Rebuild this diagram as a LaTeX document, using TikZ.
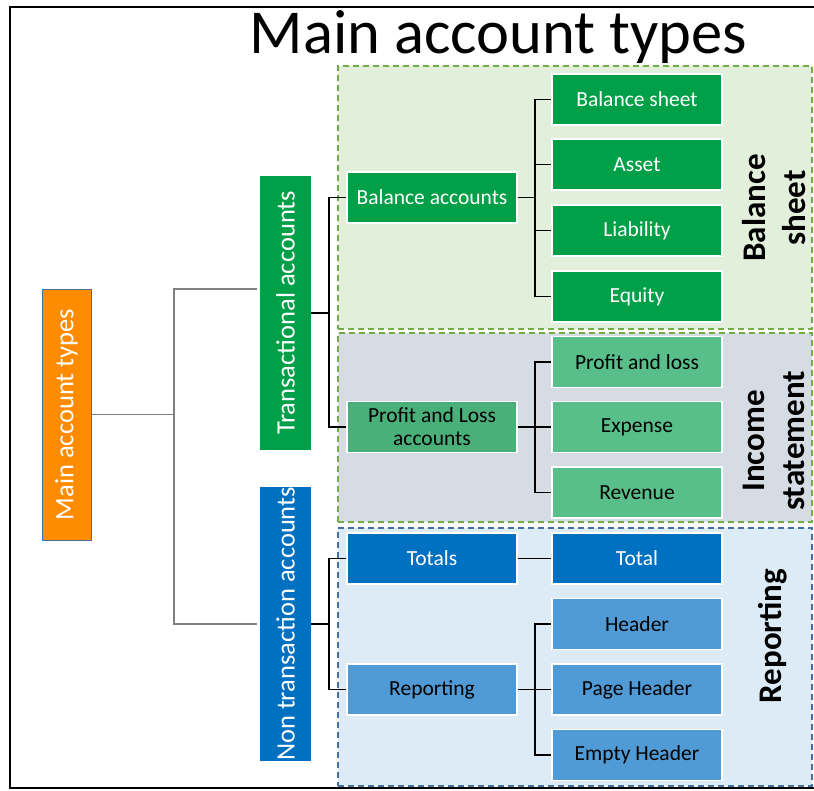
\documentclass[tikz,border=0pt]{standalone}
\usepackage{fontspec}
\setmainfont{Carlito}
\usepackage{graphicx}
\definecolor{orangeA}{RGB}{255,140,0}
\definecolor{greenA}{RGB}{0,160,72}
\definecolor{greenB}{RGB}{74,176,122}
\definecolor{greenC}{RGB}{88,190,138}
\definecolor{blueA}{RGB}{0,112,192}
\definecolor{blueB}{RGB}{80,155,213}
\definecolor{regG}{RGB}{226,239,218}
\definecolor{regI}{RGB}{214,220,228}
\definecolor{regR}{RGB}{221,235,247}
\definecolor{dashG}{RGB}{112,173,71}
\definecolor{dashB}{RGB}{65,113,156}
\definecolor{mainborder}{RGB}{65,113,156}
\tikzset{
  region/.style={draw, line width=1.2pt, dash pattern=on 6pt off 4pt, minimum width=474pt, inner sep=0pt},
  vbox/.style={inner sep=0pt, minimum width=51pt, minimum height=274pt, font=\fontsize{26.5}{30}\selectfont, text=white},
  lbox/.style={draw=white, line width=1.5pt, inner sep=0pt, minimum width=170pt, minimum height=51pt, font=\fontsize{21.5}{23}\selectfont, align=center},
  secl/.style={rotate=90, font=\fontsize{33}{40}\selectfont\bfseries, align=center, inner sep=0pt},
  conn0/.style={draw=gray, line width=1.3pt},
  conn/.style={draw=black, line width=1.5pt},
}
\begin{document}
\begin{tikzpicture}[x=1pt,y=-1pt]
\path[use as bounding box] (0,0) rectangle (814,790);
% frame
\draw[line width=2.5pt] (814,7) -- (10,7) -- (10,788) -- (814,788);
% title
\node[anchor=base, inner sep=0pt, font=\fontsize{62.5}{70}\selectfont] (title) at (498.5,53) {Main account types};
% regions
\node[region, draw=dashG, fill=regG, minimum height=263pt] (rbs) at (575,197.5) {};
\node[region, draw=dashG, fill=regI, minimum height=189pt] (ris) at (575,427.5) {};
\node[region, draw=dashB, fill=regR, minimum height=258pt] (rrp) at (575,657) {};
% level 1
\node[draw=mainborder, line width=1pt, fill=orangeA, inner sep=0pt, minimum width=49pt, minimum height=251pt, text=white, font=\fontsize{26.5}{30}\selectfont] (main) at (66.5,414.5) {\rotatebox{90}{Main account types}};
\node[vbox, fill=greenA] (ta) at (285.5,313) {\rotatebox{90}{Transactional accounts}};
\node[vbox, fill=blueA] (nta) at (285.5,624) {\rotatebox{90}{Non transaction accounts}};
% level 2
\node[lbox, fill=greenA, text=white] (ba) at (432,197.5) {Balance accounts};
\node[lbox, fill=greenB, text=black] (pla) at (432,427) {Profit and Loss\\accounts};
\node[lbox, fill=blueA, text=white] (tot) at (432,558.5) {Totals};
\node[lbox, fill=blueB, text=black] (rep) at (432,689.5) {Reporting};
% level 3
\node[lbox, fill=greenA, text=white] (bs) at (637,99.5) {Balance sheet};
\node[lbox, fill=greenA, text=white] (asset) at (637,164.5) {Asset};
\node[lbox, fill=greenA, text=white] (liab) at (637,230.5) {Liability};
\node[lbox, fill=greenA, text=white] (eq) at (637,296.5) {Equity};
\node[lbox, fill=greenC, text=black] (pl) at (637,362) {Profit and loss};
\node[lbox, fill=greenC, text=black] (exp) at (637,427) {Expense};
\node[lbox, fill=greenC, text=black] (rev) at (637,492.5) {Revenue};
\node[lbox, fill=blueA, text=white] (total) at (637,558.5) {Total};
\node[lbox, fill=blueB, text=black] (hdr) at (637,624) {Header};
\node[lbox, fill=blueB, text=black] (phdr) at (637,689.5) {Page Header};
\node[lbox, fill=blueB, text=black] (ehdr) at (637,755) {Empty Header};
% section labels
\node[secl] (lbs) at (774,208) {Balance\\sheet};
\node[secl] (lis) at (774,441) {Income\\statement};
\node[secl] (lrp) at (773,636) {Reporting};
% connectors level 0
\coordinate (j0) at (174,414.5);
\draw[conn0] (main.east) -- (j0);
\draw[conn0] (j0) |- ([xshift=-3pt,yshift=24pt]ta.west);
\draw[conn0] (j0) |- ([xshift=-3pt]nta.west);
% connectors level 1
\coordinate (j1) at (329,313);
\draw[conn] (ta.east) -- (j1);
\draw[conn] (j1) |- (ba.west);
\draw[conn] (j1) |- (pla.west);
\coordinate (j2) at (329,624);
\draw[conn] (nta.east) -- (j2);
\draw[conn] (j2) |- (tot.west);
\draw[conn] (j2) |- (rep.west);
% connectors level 2
\coordinate (j3) at (535,197.5);
\draw[conn] (ba.east) -- (j3);
\foreach \t in {bs,asset,liab,eq} \draw[conn] (j3) |- (\t.west);
\coordinate (j4) at (535,427);
\draw[conn] (pla.east) -- (j4);
\foreach \t in {pl,exp,rev} \draw[conn] (j4) |- (\t.west);
\draw[conn] (tot.east) -- (total.west);
\coordinate (j5) at (535,689.5);
\draw[conn] (rep.east) -- (j5);
\foreach \t in {hdr,phdr,ehdr} \draw[conn] (j5) |- (\t.west);
\end{tikzpicture}
\end{document}
